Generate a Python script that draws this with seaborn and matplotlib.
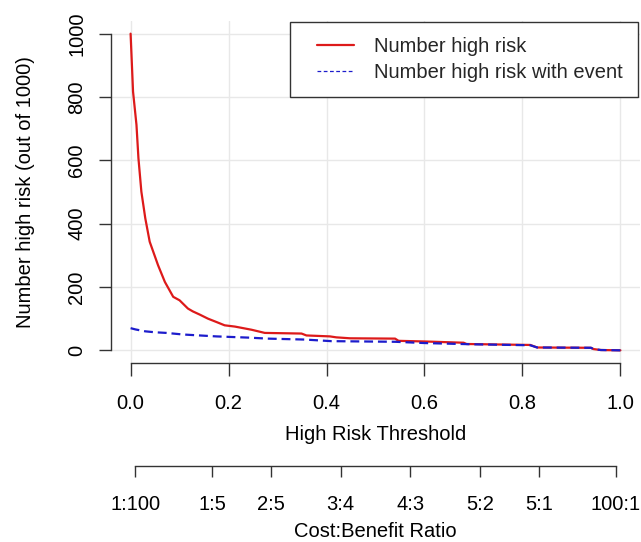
import numpy as np
import pandas as pd
import matplotlib
matplotlib.use("Agg")
import matplotlib.pyplot as plt
import seaborn as sns
from matplotlib.lines import Line2D
from matplotlib.legend_handler import HandlerLine2D

# ---- data ----
red_t = [0, 0.005, 0.012, 0.016, 0.022, 0.03, 0.039, 0.056, 0.07, 0.087, 0.1, 0.117,
         0.127, 0.141, 0.158, 0.176, 0.192, 0.213, 0.23, 0.247, 0.274, 0.349, 0.359,
         0.407, 0.42, 0.448, 0.54, 0.547, 0.6, 0.68, 0.686, 0.816, 0.83, 0.94, 0.945,
         0.96, 1.0]
red_v = [1000, 817, 712, 607, 501, 417, 343, 269, 216, 169, 158, 132,
         123, 113, 100, 89, 79, 75, 70, 65, 55, 53, 47,
         44, 41, 38, 37, 30, 28, 24, 20, 17, 9, 8, 4,
         1, 0]
blue_t = [0, 0.01, 0.03, 0.05, 0.073, 0.107, 0.175, 0.243, 0.28, 0.356, 0.41, 0.54,
          0.6, 0.7, 0.816, 0.83, 0.94, 0.945, 0.96, 1.0]
blue_v = [70, 66, 60, 57, 55, 50, 44, 40, 37, 34, 29, 27,
          23, 19, 16, 9, 8, 4, 1, 0]

x_ticks = [0.0, 0.2, 0.4, 0.6, 0.8, 1.0]
x_tick_labels = ["0.0", "0.2", "0.4", "0.6", "0.8", "1.0"]
y_ticks = [0, 200, 400, 600, 800, 1000]
cb_labels = ["1:100", "1:5", "2:5", "3:4", "4:3", "5:2", "5:1", "100:1"]
series_names = ["Number high risk", "Number high risk with event"]

# ---- style ----
sns.set_theme(style="white")
plt.rcParams["font.family"] = ["Liberation Sans", "DejaVu Sans"]
FS = 14.5
RED = "#dd1a1a"
BLUE = "#1c1ccc"
AX_COL = "#333333"

W, H = 641, 542
fig = plt.figure(figsize=(W / 100, H / 100), dpi=100)
ax = fig.add_axes([111 / W, 1 - 363 / H, 529 / W, 342 / H])

df_red = pd.DataFrame({"t": red_t, "v": red_v})
df_blue = pd.DataFrame({"t": blue_t, "v": blue_v})
sns.lineplot(data=df_red, x="t", y="v", ax=ax, color=RED, lw=1.6,
             estimator=None, legend=False)
sns.lineplot(data=df_blue, x="t", y="v", ax=ax, color=BLUE, lw=1.6,
             estimator=None, legend=False, dashes=False)
ax.lines[-1].set_dashes((4, 2.2))

ax.set_xlim(-0.04, 1.04)
ax.set_ylim(-40, 1040)
ax.set_xticks(x_ticks)
ax.set_xticklabels(x_tick_labels)
ax.set_yticks(y_ticks)
ax.grid(True, color="#e8e8e8", lw=1)
ax.set_axisbelow(True)

for s in ["top", "right"]:
    ax.spines[s].set_visible(False)
for s in ["left", "bottom"]:
    ax.spines[s].set_color(AX_COL)
    ax.spines[s].set_linewidth(1)
ax.spines["left"].set_bounds(0, 1000)
ax.spines["bottom"].set_bounds(0, 1)

ax.tick_params(axis="both", direction="out", length=9, width=1, color=AX_COL,
               labelsize=FS, labelcolor="black", left=True, bottom=True)
ax.tick_params(axis="x", pad=13)
ax.tick_params(axis="y", pad=9, labelrotation=90)
for lab in ax.get_yticklabels():
    lab.set_va("center")

ax.set_xlabel("High Risk Threshold", fontsize=FS, color="black")
ax.xaxis.set_label_coords(375.5 / W, 1 - 425 / H, transform=fig.transFigure)
ax.set_ylabel("Number high risk (out of 1000)", fontsize=FS, color="black")
ax.yaxis.set_label_coords(35 / W, 1 - 192 / H, transform=fig.transFigure)

# ---- legend ----
handles = [Line2D([], [], color=RED, lw=1.6),
           Line2D([], [], color=BLUE, lw=0.9, dashes=(3, 2))]
leg = ax.legend(handles=handles, labels=series_names, loc="upper right",
                bbox_to_anchor=(638 / W, 1 - 21.5 / H), bbox_transform=fig.transFigure,
                borderaxespad=0, fontsize=FS, frameon=True, fancybox=False,
                edgecolor=AX_COL, borderpad=0.75, handlelength=2.45,
                handletextpad=1.0, labelspacing=0.35,
                handler_map={Line2D: HandlerLine2D(xpad=0.6)})
leg.get_frame().set_linewidth(1.0)
leg.get_frame().set_alpha(1)
leg.get_frame().set_facecolor("white")

# ---- cost:benefit axis ----
cb_pos = []
for lab in cb_labels:
    a, b = lab.split(":")
    cb_pos.append(float(a) / (float(a) + float(b)))

ax2 = fig.add_axes([111 / W, 1 - 466 / H, 529 / W, 0.0001])
ax2.patch.set_visible(False)
ax2.set_xlim(-0.04, 1.04)
ax2.set_yticks([])
for s in ["top", "right", "left"]:
    ax2.spines[s].set_visible(False)
ax2.spines["bottom"].set_color(AX_COL)
ax2.spines["bottom"].set_linewidth(1)
ax2.spines["bottom"].set_bounds(cb_pos[0], cb_pos[-1])
ax2.set_xticks(cb_pos)
ax2.set_xticklabels(cb_labels)
ax2.tick_params(axis="x", direction="out", length=8, width=1, color=AX_COL,
                labelsize=FS, labelcolor="black", pad=13, bottom=True)
ax2.set_xlabel("Cost:Benefit Ratio", fontsize=FS, color="black")
ax2.xaxis.set_label_coords(375.5 / W, 1 - 522 / H, transform=fig.transFigure)

fig.savefig("out.png", dpi=100)
